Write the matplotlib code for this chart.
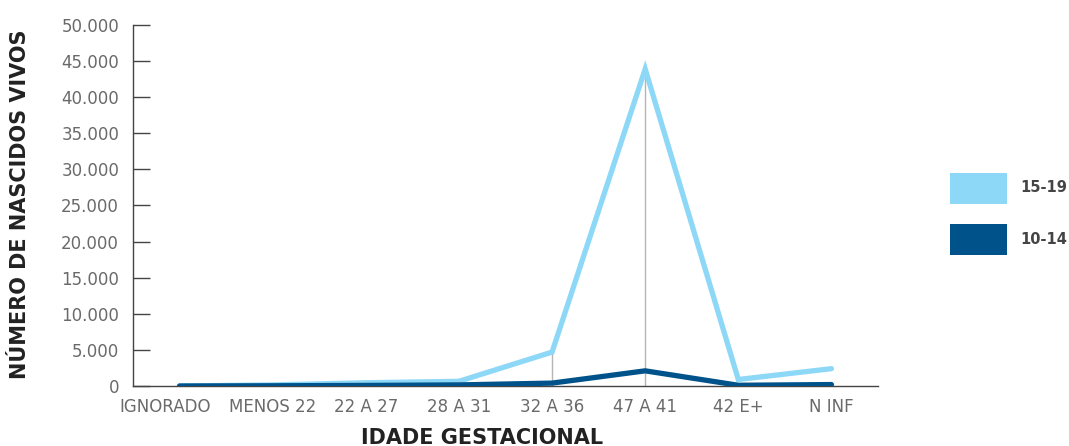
import matplotlib
matplotlib.use("Agg")
import matplotlib.pyplot as plt
from matplotlib.patches import Rectangle
from matplotlib.ticker import FuncFormatter
from matplotlib.transforms import ScaledTranslation

plt.rcParams["font.family"] = ["DejaVu Sans"]

# Idade gestacional (categorias do eixo x)
categorias = ["IGNORADO", "MENOS 22", "22 A 27", "28 A 31", "32 A 36",
              "47 A 41", "42 E+", "N INF"]

# Nascidos vivos por faixa etária da mãe
maes_15_19 = [0, 150, 450, 650, 4700, 43900, 900, 2400]
maes_10_14 = [0, 30, 80, 150, 400, 2100, 100, 200]

series_labels = ["15-19", "10-14"]
cor_15_19 = "#8DD7F7"
cor_10_14 = "#00528A"

fig = plt.figure(figsize=(10.69, 4.46), dpi=100)
ax = fig.add_axes([133 / 1069, 1 - 386 / 446, (878 - 133) / 1069, (386 - 25) / 446])

x = list(range(len(categorias)))

# linhas de referência verticais nos pontos de destaque
ax.vlines(x[4], 0, maes_15_19[4], color="#b5b5b5", lw=1, zorder=1)
ax.vlines(x[5], 0, maes_15_19[5] + 700, color="#b5b5b5", lw=1, zorder=1)

ax.plot(x, maes_15_19, color=cor_15_19, lw=3.8, solid_capstyle="round",
        solid_joinstyle="miter", zorder=2)
ax.plot(x, maes_10_14, color=cor_10_14, lw=3.8, solid_capstyle="round",
        solid_joinstyle="miter", zorder=3)

ax.set_xlim(-0.5, 7.5)
ax.set_ylim(0, 50000)
ax.set_yticks(range(0, 50001, 5000))
ax.yaxis.set_major_formatter(FuncFormatter(lambda v, p: f"{int(v):,}".replace(",", ".")))
ax.set_xticks(x)
ax.set_xticklabels(categorias)

for s in ["top", "right"]:
    ax.spines[s].set_visible(False)
for s in ["left", "bottom"]:
    ax.spines[s].set_color("#444444")
    ax.spines[s].set_linewidth(1.0)

ax.tick_params(axis="y", direction="in", length=12, width=1.0, color="#444444",
               labelsize=12, labelcolor="#6a6a6a", pad=10)
ax.tick_params(axis="x", length=0, labelsize=12, labelcolor="#6a6a6a", pad=9)

# afasta o primeiro rótulo para a esquerda para não encostar no seguinte
primeiro = ax.get_xticklabels()[0]
primeiro.set_transform(primeiro.get_transform()
                       + ScaledTranslation(-0.14, 0, fig.dpi_scale_trans))

fig.text(20 / 1069, 1 - 204 / 446, "NÚMERO DE NASCIDOS VIVOS", rotation=90,
         ha="center", va="center", fontsize=15, fontweight="bold", color="#222222")
fig.text(482 / 1069, 1 - 438 / 446, "IDADE GESTACIONAL", ha="center", va="center",
         fontsize=15, fontweight="bold", color="#222222")

# legenda
for i, (lab, cor) in enumerate(zip(series_labels, [cor_15_19, cor_10_14])):
    y0 = [173, 224][i]
    fig.add_artist(Rectangle((950 / 1069, 1 - (y0 + 31) / 446), 57 / 1069, 31 / 446,
                             transform=fig.transFigure, facecolor=cor, edgecolor="none"))
    fig.text(1020 / 1069, 1 - (y0 + 15) / 446, lab, ha="left", va="center",
             fontsize=10.5, fontweight="bold", color="#444444")

fig.savefig("out.png", dpi=100, facecolor="white")
